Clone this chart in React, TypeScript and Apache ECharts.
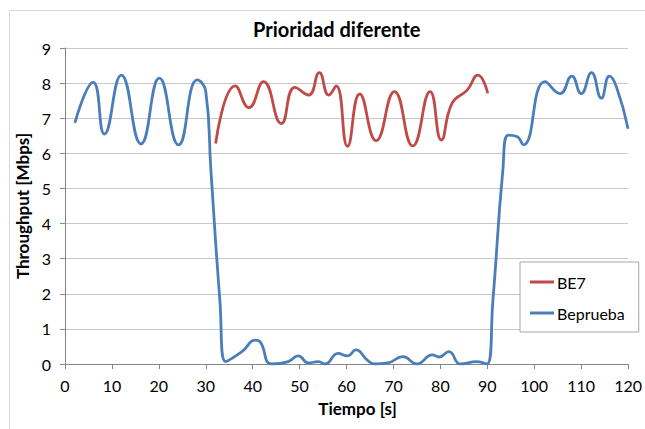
import { useEffect, useRef } from "react";
import * as echarts from "echarts";

const chartTitle = "Prioridad diferente";
const xAxisName = "Tiempo [s]";
const yAxisName = "Throughput [Mbps]";
const seriesNames = ["BE7", "Beprueba"];

const be7Time = [32.1, 36.3, 39.2, 42.3, 46.1, 49, 51.9, 54.2, 56.2, 57.8, 60.2, 62.8, 66.3, 70.2, 74.1, 77.8, 80.2, 82.5, 85.7, 88, 90.1];
const be7Value = [6.28, 7.92, 7.3, 8.04, 6.85, 7.88, 7.66, 8.3, 7.66, 7.92, 6.2, 7.69, 6.36, 7.76, 6.21, 7.76, 6.38, 7.43, 7.8, 8.23, 7.71];

const bepruebaTime = [2.1, 6, 8.4, 12, 16.2, 20.1, 24.2, 28.2, 30, 31.1, 33, 34.2, 37.7, 40.6, 41.6, 44, 47.6, 49.7, 51.9, 54, 55.4, 58.2, 60.2, 62, 64.5, 66, 68.8, 72, 75, 78.3, 79.7, 81.8, 84.3, 87.8, 89.9, 91.2, 93.3, 94.5, 96.3, 97.7, 102.3, 105.5, 108, 110, 112.2, 114.3, 116, 117.5, 120];
const bepruebaValue = [6.87, 8.02, 6.55, 8.23, 6.27, 8.14, 6.24, 8.09, 7.76, 5.5, 1.82, 0.07, 0.35, 0.68, 0.63, 0, 0.07, 0.23, 0.03, 0.07, 0, 0.3, 0.23, 0.4, 0.1, 0, 0.03, 0.21, 0, 0.26, 0.2, 0.35, 0, 0.07, 0, 1.82, 5.5, 6.52, 6.48, 6.24, 8.04, 7.7, 8.2, 7.7, 8.3, 7.57, 8.2, 7.9, 6.7];

const FONT = "Lato, 'Open Sans', sans-serif";

export default function App() {
  const ref = useRef<HTMLDivElement>(null);
  useEffect(() => {
    const chart = echarts.init(ref.current!, null, { renderer: "svg" });
    const pair = (t: number[], v: number[]) => t.map((x, i) => [x, v[i]]);
    chart.setOption({
      animation: false,
      backgroundColor: "#ffffff",
      textStyle: { fontFamily: FONT },
      title: {
        text: chartTitle,
        left: 253,
        top: 19,
        padding: 0,
        textStyle: { fontFamily: FONT, fontSize: 20, fontWeight: "bold", color: "#000" },
      },
      graphic: [
        { type: "line", shape: { x1: 9.5, y1: 10.5, x2: 9.5, y2: 440 }, style: { stroke: "#d9d9d9", lineWidth: 1 } },
        { type: "line", shape: { x1: 9.5, y1: 10.5, x2: 650, y2: 10.5 }, style: { stroke: "#d9d9d9", lineWidth: 1 } },
      ],
      legend: {
        orient: "vertical",
        left: 520,
        top: 262,
        data: seriesNames,
        backgroundColor: "#fff",
        borderColor: "#a6a6a6",
        borderWidth: 1,
        padding: [12, 14, 11, 10],
        itemGap: 15,
        itemWidth: 24,
        itemHeight: 3,
        icon: "rect",
        textStyle: { fontFamily: FONT, fontSize: 16, color: "#000", padding: [0, 0, 0, -2] },
      },
      grid: { left: 65, right: 13, top: 48, bottom: 65 },
      xAxis: {
        type: "value",
        min: 0,
        max: 120,
        interval: 10,
        name: xAxisName,
        nameLocation: "middle",
        nameGap: 36,
        nameTextStyle: { fontFamily: FONT, fontSize: 17, fontWeight: "bold", color: "#000", padding: [0, 0, 0, 22] },
        axisLine: { show: true, lineStyle: { color: "#868686", width: 1 } },
        axisTick: { show: true, length: 5, lineStyle: { color: "#868686" } },
        axisLabel: { fontFamily: FONT, fontSize: 16, color: "#000", margin: 13 },
        splitLine: { show: false },
      },
      yAxis: {
        type: "value",
        min: 0,
        max: 9,
        interval: 1,
        name: yAxisName,
        nameLocation: "middle",
        nameGap: 34,
        nameTextStyle: { fontFamily: FONT, fontSize: 17, fontWeight: "bold", color: "#000" },
        axisLine: { show: true, lineStyle: { color: "#868686", width: 1 } },
        axisTick: { show: true, length: 5, lineStyle: { color: "#868686" } },
        axisLabel: { fontFamily: FONT, fontSize: 16, color: "#000", margin: 14 },
        splitLine: { show: true, lineStyle: { color: "#c8c8c8", width: 1 } },
      },
      series: [
        {
          name: seriesNames[0],
          type: "line",
          data: pair(be7Time, be7Value),
          smooth: 0.5,
          showSymbol: false,
          symbol: "none",
          color: "#be4b48",
          lineStyle: { color: "#be4b48", width: 2.8 },
          z: 3,
        },
        {
          name: seriesNames[1],
          type: "line",
          data: pair(bepruebaTime, bepruebaValue),
          smooth: 0.5,
          showSymbol: false,
          symbol: "none",
          color: "#4a7ebb",
          lineStyle: { color: "#4a7ebb", width: 2.8 },
          z: 2,
        },
      ],
    });
    return () => chart.dispose();
  }, []);
  return (
    <div
      ref={ref}
      style={{ position: "absolute", left: 0, top: 0, width: 645, height: 429, background: "#fff" }}
    />
  );
}
